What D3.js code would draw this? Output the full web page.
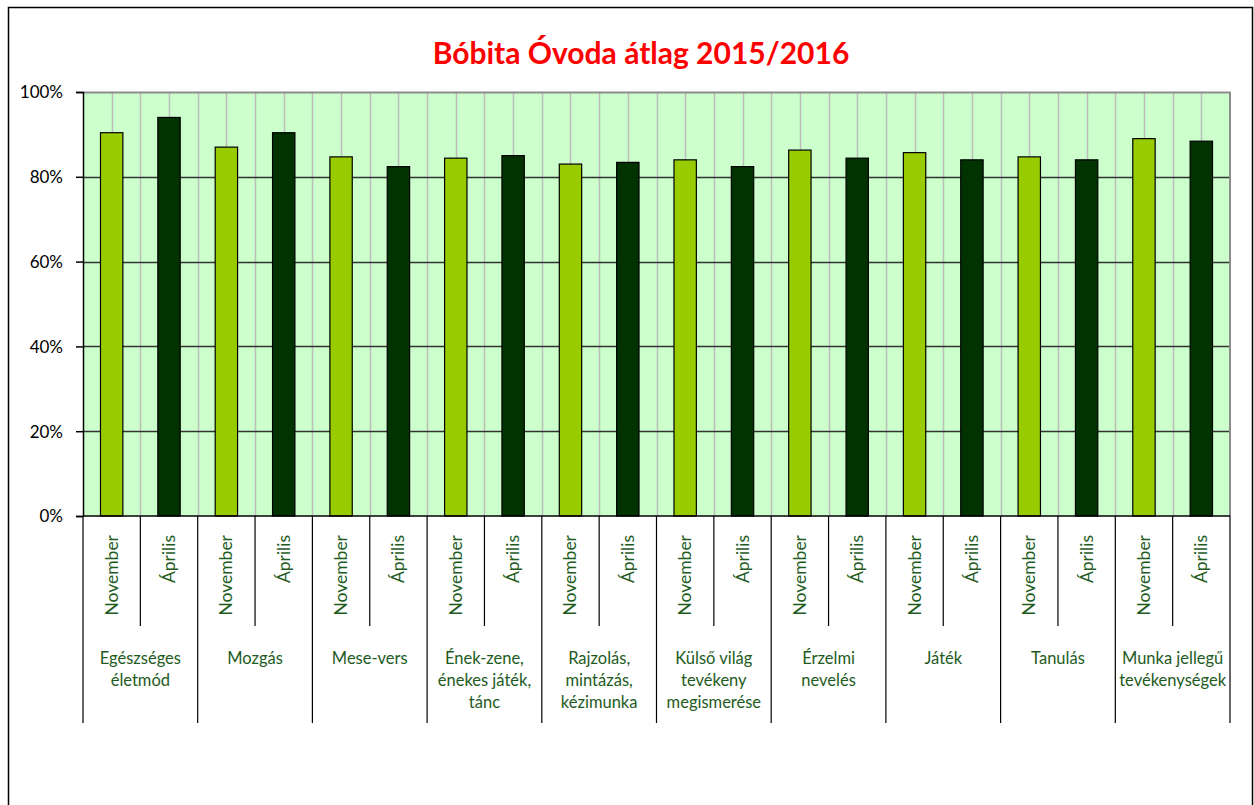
<!DOCTYPE html>
<html>
<head>
<meta charset="utf-8">
<script src="https://cdn.jsdelivr.net/npm/d3@7"></script>
<style>
  body { margin: 0; background: #fff; }
  svg text { font-family: Lato, "Open Sans", sans-serif; }
</style>
</head>
<body>
<svg id="chart" width="1254" height="805"></svg>
<script>
// data
const categories = [
  ["Egészséges", "életmód"],
  ["Mozgás"],
  ["Mese-vers"],
  ["Ének-zene,", "énekes játék,", "tánc"],
  ["Rajzolás,", "mintázás,", "kézimunka"],
  ["Külső világ", "tevékeny", "megismerése"],
  ["Érzelmi", "nevelés"],
  ["Játék"],
  ["Tanulás"],
  ["Munka jellegű", "tevékenységek"],
];
const periods = ["November", "Április"];
const november = [0.904, 0.870, 0.847, 0.844, 0.830, 0.840, 0.863, 0.857, 0.847, 0.890];
const aprilis = [0.940, 0.904, 0.824, 0.850, 0.834, 0.824, 0.844, 0.840, 0.840, 0.884];
const yTicks = [0, 0.2, 0.4, 0.6, 0.8, 1];
const periodColors = { November: "#99CC00", "Április": "#003300" };

const svg = d3.select("#chart");
const margin = { top: 92, right: 24, bottom: 289, left: 83 };
const width = 1254 - margin.left - margin.right;
const height = 805 - margin.top - margin.bottom;

// outer frame
svg.append("rect")
  .attr("x", 8.5).attr("y", 7.5)
  .attr("width", 1244).attr("height", 820)
  .attr("fill", "#fff").attr("stroke", "#000").attr("stroke-width", 1.5);

svg.append("text")
  .attr("x", 641).attr("y", 64)
  .attr("text-anchor", "middle")
  .attr("fill", "#FF0000")
  .attr("font-weight", "bold")
  .attr("font-size", 30)
  .text("Bóbita Óvoda átlag 2015/2016");

const chart = svg.append("g")
  .attr("transform", `translate(${margin.left},${margin.top})`);

// flatten into one row per bar
const bars = [];
categories.forEach((c, i) => {
  bars.push({ group: i, period: periods[0], value: november[i], key: i + "-0" });
  bars.push({ group: i, period: periods[1], value: aprilis[i], key: i + "-1" });
});

const xGroup = d3.scaleBand().domain(d3.range(categories.length)).range([0, width]);
const xSub = d3.scaleBand().domain(bars.map((d) => d.key)).range([0, width]);
const yScale = d3.scaleLinear().domain([0, 1]).range([height, 0]);

// plot background
chart.append("rect")
  .attr("width", width).attr("height", height)
  .attr("fill", "#CCFFCC");

// vertical grid lines, every half band
const halfSteps = d3.range(1, bars.length * 2);
chart.append("g")
  .selectAll("line")
  .data(halfSteps)
  .join("line")
  .attr("x1", (d) => Math.round((d * xSub.step()) / 2) + 0.5)
  .attr("x2", (d) => Math.round((d * xSub.step()) / 2) + 0.5)
  .attr("y1", 0).attr("y2", height)
  .attr("stroke", "#BDBDBD").attr("stroke-width", 1.5);

// horizontal grid lines
chart.append("g")
  .selectAll("line")
  .data(yTicks.filter((d) => d > 0 && d < 1))
  .join("line")
  .attr("x1", 0).attr("x2", width)
  .attr("y1", (d) => Math.round(yScale(d)) + 0.5)
  .attr("y2", (d) => Math.round(yScale(d)) + 0.5)
  .attr("stroke", "#333333").attr("stroke-width", 1.5);

// plot border top / right
chart.append("path")
  .attr("d", `M0,0.5H${width}V${height}`)
  .attr("fill", "none").attr("stroke", "#8C8C8C").attr("stroke-width", 2);

// bars
const barWidth = xSub.bandwidth() * 0.39;
chart.append("g")
  .selectAll("rect")
  .data(bars)
  .join("rect")
  .attr("x", (d) => xSub(d.key) + (xSub.bandwidth() - barWidth) / 2)
  .attr("y", (d) => yScale(d.value))
  .attr("width", barWidth)
  .attr("height", (d) => height - yScale(d.value))
  .attr("fill", (d) => periodColors[d.period])
  .attr("stroke", "#000").attr("stroke-width", 1.2);

// y axis
const yAxis = chart.append("g")
  .call(d3.axisLeft(yScale).tickValues(yTicks).tickFormat(d3.format(".0%")).tickSize(7).tickPadding(13));
yAxis.select(".domain").attr("stroke", "#000").attr("stroke-width", 1.5);
yAxis.selectAll(".tick line").attr("stroke", "#000").attr("stroke-width", 1.5);
yAxis.selectAll("text").attr("font-size", 17).attr("fill", "#000").attr("dy", "0.35em");

// x axis line
chart.append("line")
  .attr("x1", 0).attr("x2", width)
  .attr("y1", height).attr("y2", height)
  .attr("stroke", "#000").attr("stroke-width", 1.5);

// sub tick lines (between periods)
const xAxisG = chart.append("g").attr("transform", `translate(0,${height})`);
xAxisG.selectAll(".sub-tick")
  .data(d3.range(categories.length))
  .join("line")
  .attr("class", "sub-tick")
  .attr("x1", (d) => xGroup(d) + xGroup.bandwidth() / 2)
  .attr("x2", (d) => xGroup(d) + xGroup.bandwidth() / 2)
  .attr("y1", 0).attr("y2", 110)
  .attr("stroke", "#000").attr("stroke-width", 1.2);

// group tick lines
xAxisG.selectAll(".group-tick")
  .data(d3.range(categories.length + 1))
  .join("line")
  .attr("class", "group-tick")
  .attr("x1", (d) => Math.min(d * xGroup.step(), width))
  .attr("x2", (d) => Math.min(d * xGroup.step(), width))
  .attr("y1", 0).attr("y2", 207)
  .attr("stroke", "#000").attr("stroke-width", 1.2);

// period labels, rotated
xAxisG.selectAll(".period-label")
  .data(bars)
  .join("text")
  .attr("class", "period-label")
  .attr("transform", (d) => `translate(${xSub(d.key) + xSub.bandwidth() / 2 + 6},19) rotate(-90)`)
  .attr("text-anchor", "end")
  .attr("font-size", 17.5)
  .attr("fill", "#1E5B1E")
  .text((d) => d.period);

// group labels
xAxisG.selectAll(".group-label")
  .data(categories)
  .join("text")
  .attr("class", "group-label")
  .attr("x", (d, i) => xGroup(i) + xGroup.bandwidth() / 2)
  .attr("y", 148)
  .attr("text-anchor", "middle")
  .attr("font-size", 16.5)
  .attr("fill", "#1E5B1E")
  .selectAll("tspan")
  .data((d) => d)
  .join("tspan")
  .attr("x", function () { return d3.select(this.parentNode).attr("x"); })
  .attr("dy", (d, i) => (i === 0 ? 0 : 22))
  .text((d) => d);
</script>
</body>
</html>
